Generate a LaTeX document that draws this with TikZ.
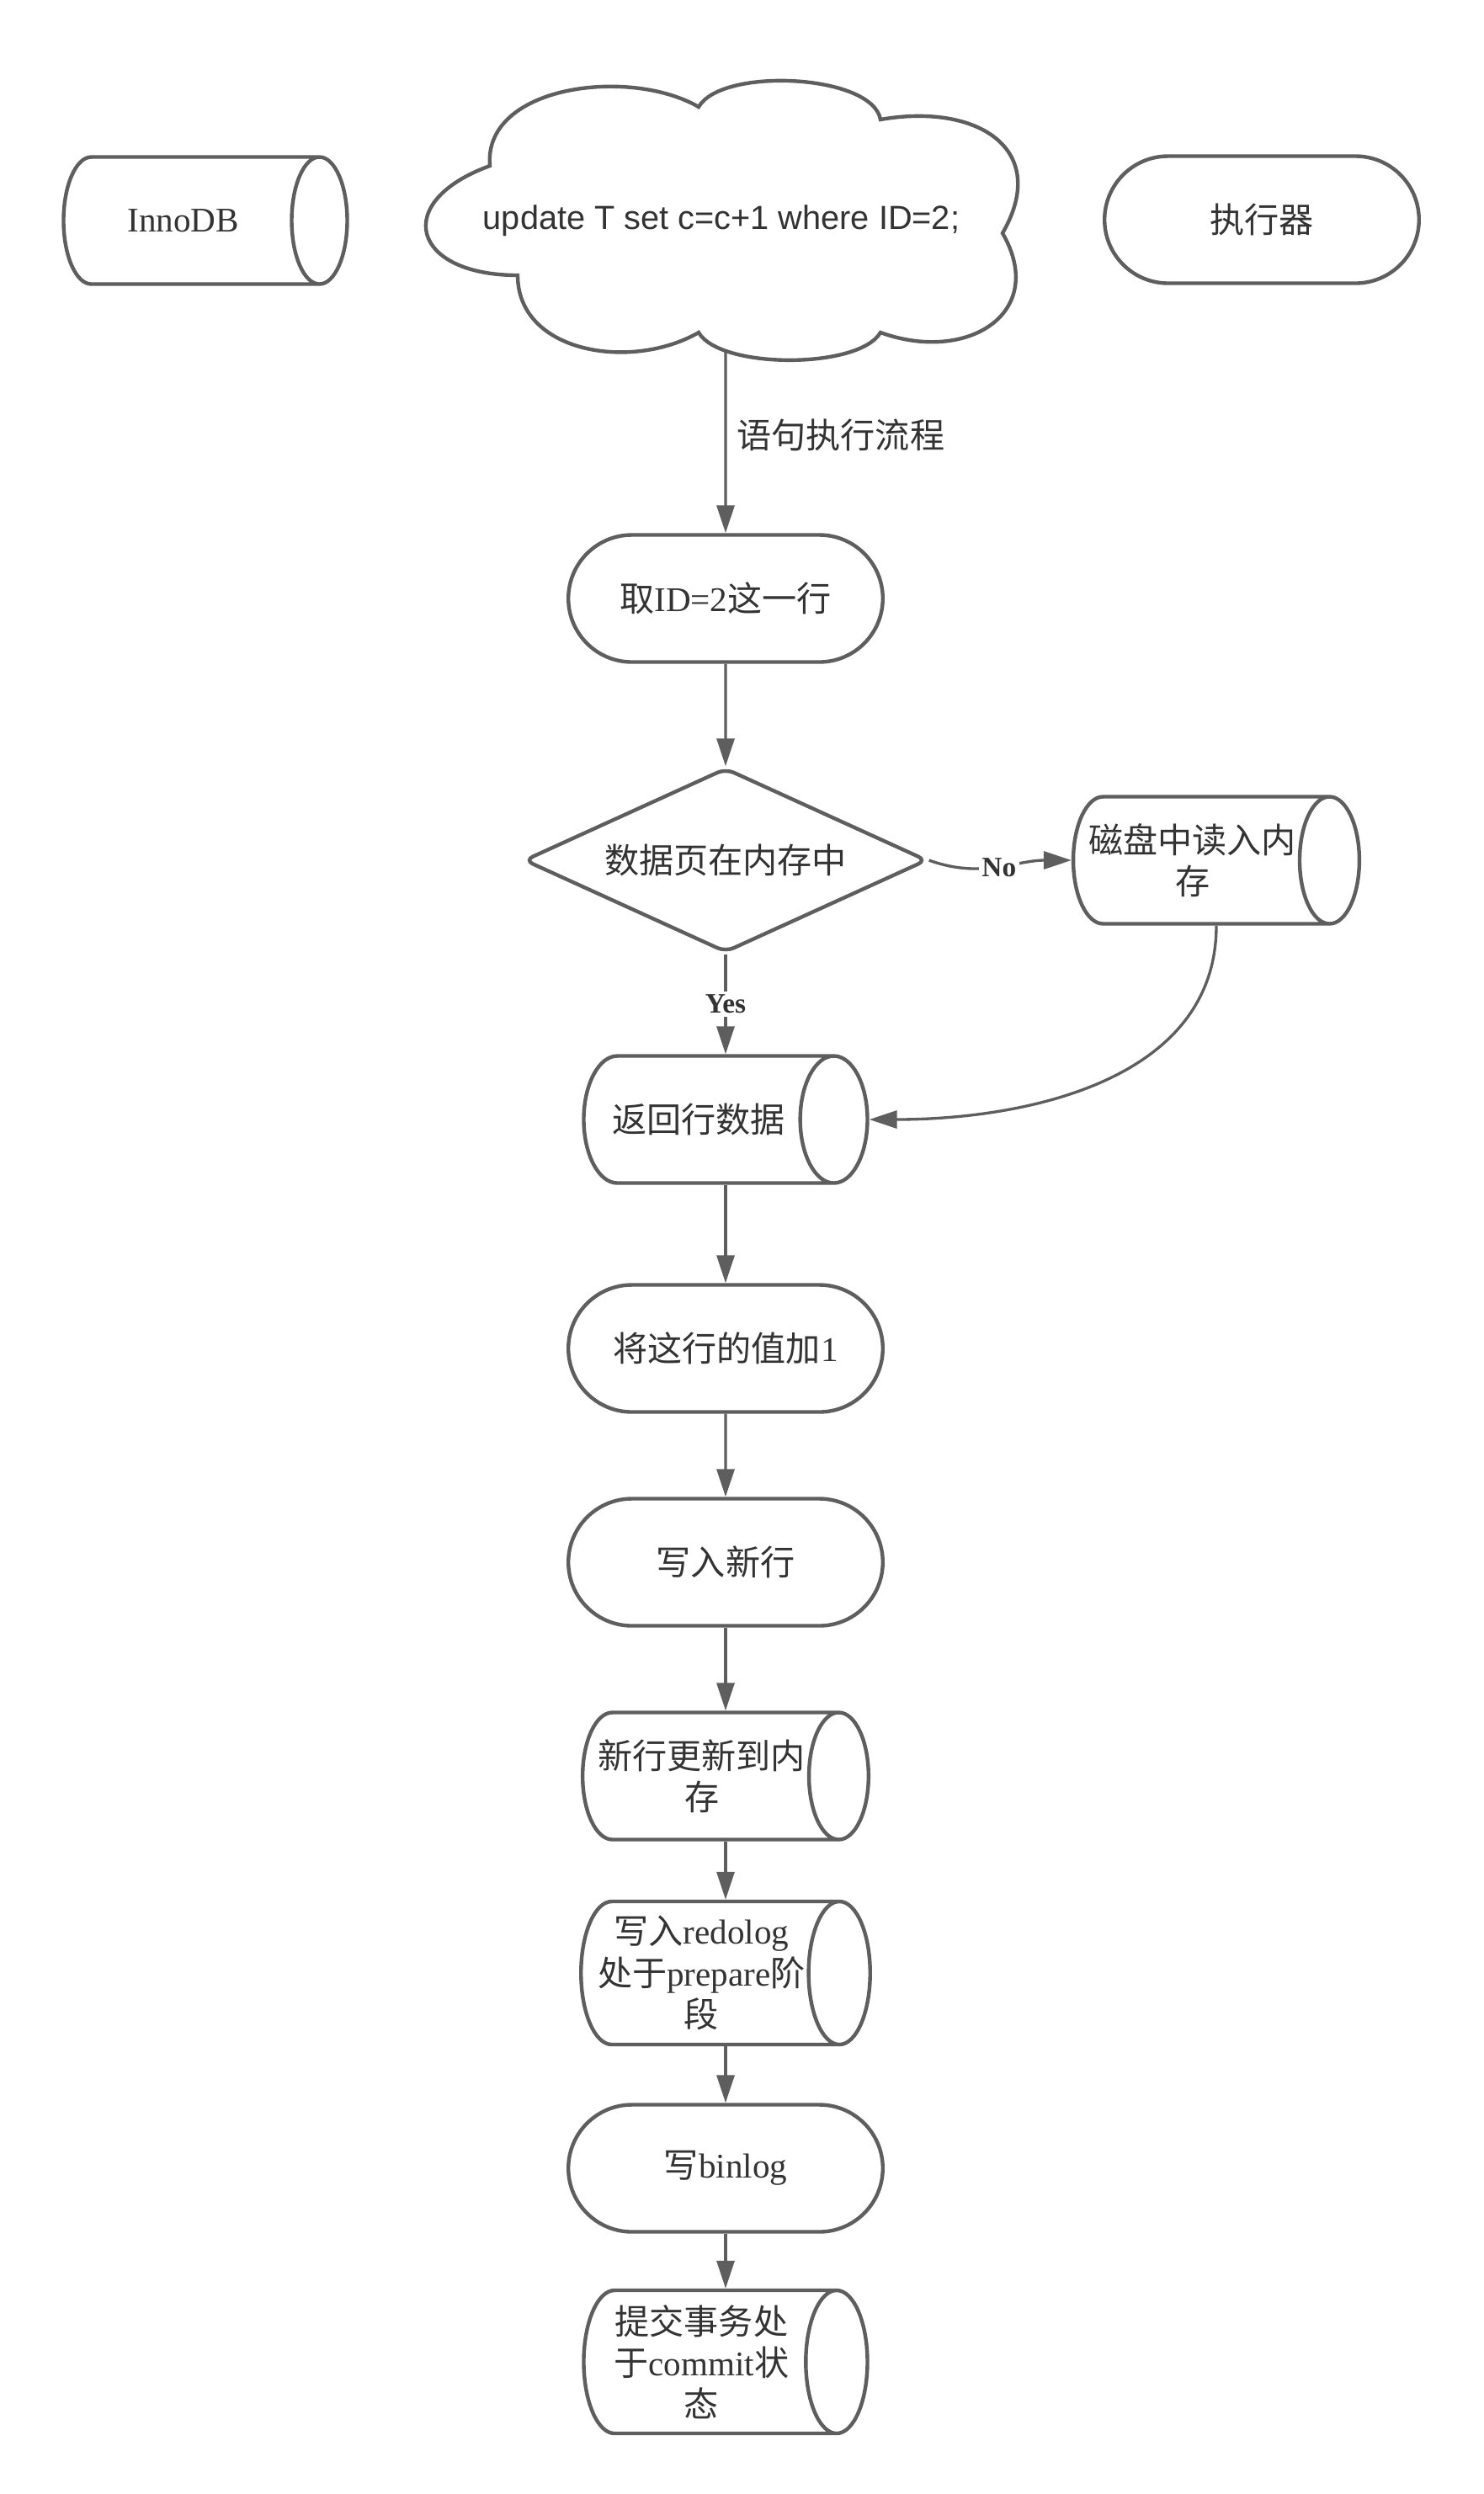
\documentclass[tikz,border=0pt]{standalone}
\usepackage{fontspec}
\setmainfont{Liberation Serif}
\setsansfont{Liberation Sans}
\newfontfamily\cjk{Noto Sans CJK SC}
\newcommand{\zh}[1]{{\cjk #1}}
\usetikzlibrary{arrows.meta, shapes.geometric, shapes.misc}
\definecolor{linegray}{HTML}{5E5E5E}
\definecolor{textgray}{HTML}{333333}

\begin{document}
\begin{tikzpicture}[->, >={Triangle[length=0.33cm, width=0.21cm]}, line width=0.95pt, draw=linegray, text=textgray,
    font=\fontsize{11.7}{14}\selectfont,
    terminal/.style={draw, rounded rectangle, line width=1.25pt, minimum width=3.97cm, minimum height=1.51cm, fill=white},
    store/.style={draw, cylinder, aspect=1.3, line width=1.25pt, minimum height=3.37cm, minimum width=1.51cm, inner xsep=0.5pt, anchor=shape center, align=center, fill=white},
    decision/.style={draw, diamond, aspect=2.19, rounded corners=3pt, line width=1.25pt, minimum width=4.79cm, minimum height=2.19cm, inner sep=1pt, fill=white},
    lbl/.style={fill=white, inner sep=1pt, font=\fontsize{9.5}{11}\selectfont\bfseries}]
		\path[use as bounding box, fill=white] (0, 0) rectangle (17.63, -29.63);

		\node[store] (innodb) at (2.44, -2.62) {InnoDB};
		\node[terminal] (exec) at (14.99, -2.61) {\zh{执行器}};

		% the statement cloud
		\coordinate (sqlfoot) at (8.62, -4.0);
		\node[terminal] (fetch) at (8.62, -7.11) {\zh{取}ID=2\zh{这一行}};
		\draw (sqlfoot) -- node[right, pos=0.5] {\zh{语句执行流程}} (fetch);
		\draw[-, line width=1.25pt, fill=white] (5.82, -1.97) to[out=95, in=150, looseness=0.95] (8.30, -1.27)
		  to[out=60, in=100, looseness=0.65] (10.46, -1.42) to[out=10, in=60, looseness=1.5] (11.91, -2.77)
		  to[out=-60, in=-20, looseness=1.5] (10.46, -3.95) to[out=-120, in=-60, looseness=0.6] (8.30, -3.95)
		  to[out=-150, in=-90, looseness=1.05] (6.15, -3.27) to[out=180, in=-160, looseness=2.4] (5.82, -1.97) -- cycle;
		\node[font=\sffamily\fontsize{11.3}{14}\selectfont] (sql) at (8.57, -2.62) {update T set c=c+1 where ID=2;};

		\node[decision] (check) at (8.62, -10.22) {\zh{数据页在内存中}};
		\node[store, aspect=0.64] (disk) at (14.45, -10.22) {\zh{磁盘中读入内}\\\zh{存}};
		\node[store] (ret) at (8.62, -13.30) {\zh{返回行数据}};
		\node[terminal] (incr) at (8.62, -16.02) {\zh{将这行的值加}1};
		\node[terminal] (write) at (8.62, -18.56) {\zh{写入新行}};
		\node[store, aspect=0.64] (mem) at (8.62, -21.10) {\zh{新行更新到内}\\\zh{存}};
		\node[store, aspect=0.46, minimum width=1.70cm] (redo) at (8.62, -23.44) {\zh{写入}redolog\\\zh{处于}prepare\zh{阶}\\\zh{段}};
		\node[terminal] (binlog) at (8.62, -25.76) {\zh{写}binlog};
		\node[store, aspect=0.46, minimum width=1.70cm] (commit) at (8.62, -28.06) {\zh{提交事务处}\\\zh{于}commit\zh{状}\\\zh{态}};

		\draw (fetch) -- (check);
		\draw (check.east) to[out=-20, in=180] node[lbl] {No} (disk.west);
		\draw (check.south) -- node[lbl] {Yes} (check.south |- ret.north);
		\draw (disk.shape center |- disk.south) to[out=-90, in=0] (ret.east);
		\draw (incr.north |- ret.south) -- (incr.north);
		\draw (incr) -- (write);
		\draw (write.south) -- (write.south |- mem.north);
		\draw (write.south |- mem.south) -- (write.south |- redo.north);
		\draw (binlog.north |- redo.south) -- (binlog.north);
		\draw (binlog.south) -- (binlog.south |- commit.north);
	\end{tikzpicture}
\end{document}
